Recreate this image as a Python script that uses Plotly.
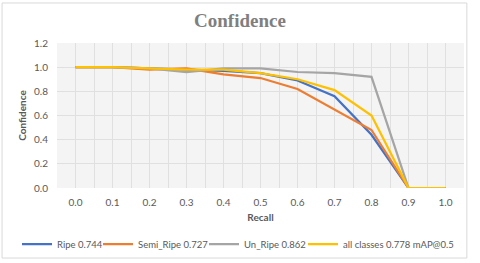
import plotly.graph_objects as go

recall = [0.0, 0.1, 0.2, 0.3, 0.4, 0.5, 0.6, 0.7, 0.8, 0.9, 1.0]
ripe = [1.0, 1.0, 0.99, 0.98, 0.97, 0.95, 0.89, 0.76, 0.44, 0.0, 0.0]
semi_ripe = [1.0, 1.0, 0.98, 0.99, 0.94, 0.91, 0.82, 0.65, 0.48, 0.0, 0.0]
un_ripe = [1.0, 1.0, 0.99, 0.96, 0.99, 0.99, 0.96, 0.95, 0.92, 0.0, 0.0]
all_classes = [1.0, 1.0, 0.99, 0.98, 0.98, 0.95, 0.90, 0.81, 0.60, 0.0, 0.0]

series_names = ["Ripe 0.744", "Semi_Ripe 0.727", "Un_Ripe 0.862", "all classes 0.778 mAP@0.5"]
series_values = [ripe, semi_ripe, un_ripe, all_classes]
series_colors = ["#4472C4", "#ED7D31", "#A5A5A5", "#FFC000"]
legend_ids = ["legend", "legend2", "legend3", "legend4"]
legend_x_px = [17, 98, 204, 303]

W, H = 480, 263
font_family = "Lato, 'Liberation Sans', sans-serif"
text_color = "#595959"

fig = go.Figure()
for name, vals, color, lg in zip(series_names, series_values, series_colors, legend_ids):
    fig.add_trace(go.Scatter(
        x=recall, y=vals, name=name, mode="lines",
        line=dict(color=color, width=2.25), legend=lg,
    ))

legend_common = dict(
    orientation="h", xref="container", yref="container",
    xanchor="left", yanchor="middle", y=(H - 244) / H,
    font=dict(family=font_family, size=9.5, color=text_color),
    itemwidth=30, bgcolor="rgba(0,0,0,0)", borderwidth=0,
)
legend_layout = {}
for lg, xp in zip(legend_ids, legend_x_px):
    legend_layout[lg] = dict(legend_common, x=xp / W)

fig.update_layout(
    width=W, height=H,
    margin=dict(l=57, r=16, t=43, b=75, autoexpand=False),
    paper_bgcolor="white",
    plot_bgcolor="#f4f4f4",
    font=dict(family=font_family, size=10, color=text_color),
    title=dict(
        text="<b>Confidence</b>",
        font=dict(family="'Liberation Serif', 'DejaVu Serif', serif", size=19, color="#7f7f7f"),
        xref="container", x=0.5, xanchor="center",
        yref="container", y=(H - 20) / H, yanchor="middle",
    ),
    showlegend=True,
    xaxis=dict(
        range=[-0.05, 1.05], dtick=0.1, tick0=0, tickformat=".1f",
        showgrid=True, gridcolor="#e0e0e0", gridwidth=1,
        minor=dict(dtick=0.05, tick0=0.05, showgrid=True, gridcolor="#e0e0e0", gridwidth=1),
        zeroline=False, showline=False,
        ticks="outside", ticklen=5, tickcolor="rgba(0,0,0,0)",
        title=dict(text="<b>Recall</b>", font=dict(size=10, color=text_color), standoff=6),
    ),
    yaxis=dict(
        range=[0, 1.2], dtick=0.2, tickformat=".1f",
        showgrid=True, gridcolor="#e0e0e0", gridwidth=1,
        zeroline=False, showline=False,
        ticks="outside", ticklen=6, tickcolor="rgba(0,0,0,0)",
        title=dict(text="<b>Confidence</b>", font=dict(size=10, color=text_color), standoff=5),
    ),
    shapes=[dict(
        type="rect", xref="paper", yref="paper",
        x0=-0.135, x1=1.007, y0=-0.483, y1=1.276,
        line=dict(color="#d9d9d9", width=1), fillcolor="rgba(0,0,0,0)", layer="below",
    )],
    **legend_layout,
)

fig.write_html("out.html", config={"displayModeBar": False},
               post_script="document.body.style.margin='0';")
